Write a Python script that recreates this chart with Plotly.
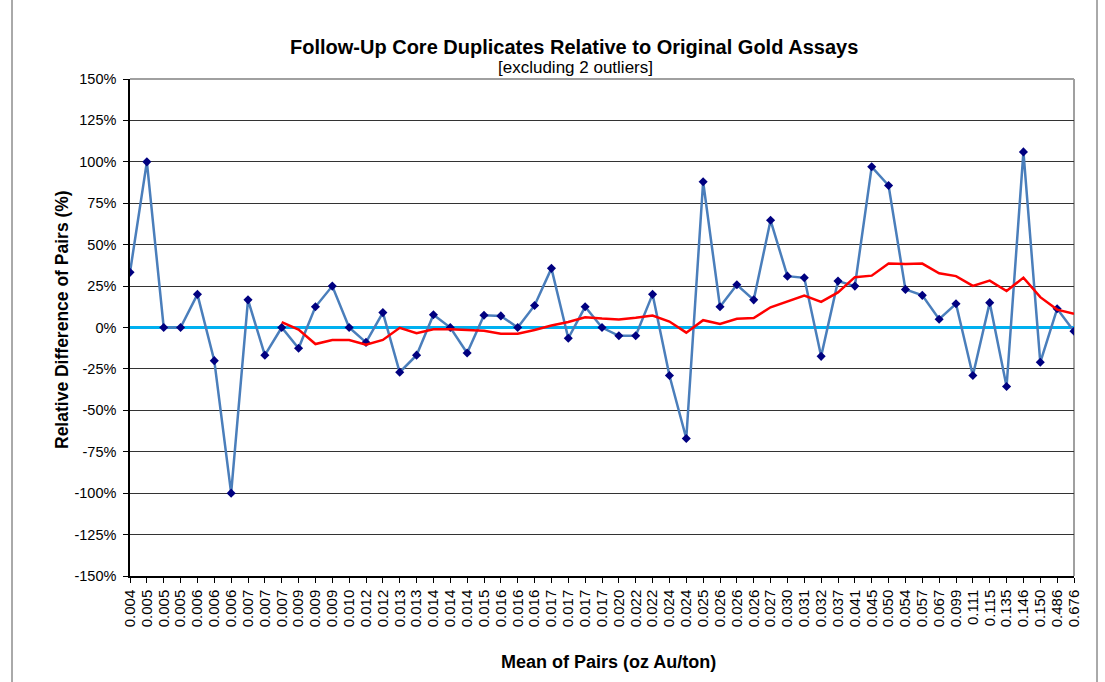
import plotly.graph_objects as go

# Mean of each duplicate pair (oz Au/ton), one label per pair
mean_labels = [
    "0.004", "0.005", "0.005", "0.005", "0.006", "0.006", "0.006", "0.007", "0.007", "0.007",
    "0.009", "0.009", "0.009", "0.010", "0.012", "0.012", "0.013", "0.013", "0.014", "0.014",
    "0.014", "0.015", "0.016", "0.016", "0.016", "0.017", "0.017", "0.017", "0.017", "0.020",
    "0.022", "0.022", "0.024", "0.024", "0.025", "0.026", "0.026", "0.026", "0.027", "0.030",
    "0.031", "0.032", "0.037", "0.041", "0.045", "0.050", "0.054", "0.057", "0.067", "0.099",
    "0.111", "0.115", "0.135", "0.146", "0.150", "0.486", "0.676",
]

# Relative difference of each pair (%)
rel_diff = [
    33.3, 100, 0, 0, 20, -20, -100, 16.7, -16.7, 0,
    -12.5, 12.5, 25, 0, -9, 9, -27, -16.7, 7.7, 0,
    -15.4, 7.4, 7.0, 0, 13.3, 35.7, -6.5, 12.5, 0, -5,
    -5, 20, -29, -67, 88, 12.5, 25.8, 16.7, 64.7, 31,
    30, -17.4, 28, 25, 97, 85.7, 23, 19.4, 5, 14.3,
    -29, 15, -35.6, 106, -21, 11.3, -2.3,
]

# 10-pair moving average (%), starting at the 10th pair
moving_avg = [
    3.3, -1.3, -10.0, -7.5, -7.5, -10.4, -7.5, -0.2, -3.5, -1.1,
    -1.1, -1.4, -1.9, -3.7, -3.7, -1.5, 1.2, 3.3, 6.2, 5.4,
    4.9, 5.9, 7.2, 3.6, -3.1, 4.4, 2.1, 5.3, 5.7, 12.2,
    15.8, 19.3, 15.5, 21.2, 30.4, 31.3, 38.7, 38.4, 38.6, 32.7,
    31.0, 25.1, 28.3, 22.0, 30.1, 18.3, 10.8, 8.3,
]

y_ticks = list(range(-150, 151, 25))

FONT = "Arial, Liberation Sans, sans-serif"

x_pos = list(range(len(mean_labels)))
ma_start = len(mean_labels) - len(moving_avg)

fig = go.Figure()

fig.add_trace(go.Scatter(
    x=x_pos, y=rel_diff, mode="lines+markers",
    line=dict(color="#4A7EBB", width=2.5),
    marker=dict(symbol="diamond", size=7, color="#000080"),
    showlegend=False, hoverinfo="x+y",
))

fig.add_trace(go.Scatter(
    x=x_pos[ma_start:], y=moving_avg, mode="lines",
    line=dict(color="#FF0000", width=2.5),
    showlegend=False,
))

fig.update_layout(
    width=1105, height=682,
    margin=dict(l=130, r=31, t=79, b=106),
    paper_bgcolor="white", plot_bgcolor="white",
    font=dict(family=FONT, size=14, color="black"),
    xaxis=dict(
        range=[0, len(mean_labels) - 1],
        tickmode="array", tickvals=x_pos, ticktext=mean_labels,
        tickangle=-90, ticks="outside", ticklen=5, tickcolor="black",
        ticklabelstandoff=1,
        showgrid=False, zeroline=False,
        showline=True, linecolor="black", linewidth=1.5,
        tickfont=dict(family=FONT, size=15, color="black"),
    ),
    yaxis=dict(
        range=[-150, 150], tickmode="array", tickvals=y_ticks,
        ticktext=[f"{v}%" for v in y_ticks],
        ticks="outside", ticklen=5, tickcolor="black",
        ticklabelstandoff=4,
        showgrid=True, gridcolor="#333333", gridwidth=1.3,
        zeroline=True, zerolinecolor="#00B0F0", zerolinewidth=3,
        showline=True, linecolor="black", linewidth=1.5,
        tickfont=dict(family=FONT, size=14.5, color="black"),
    ),
    shapes=[
        # plot area border (top / right)
        dict(type="line", xref="paper", yref="paper", x0=0, x1=1, y0=1, y1=1,
             line=dict(color="#A0A0A0", width=2), layer="above"),
        dict(type="line", xref="paper", yref="paper", x0=1, x1=1, y0=0, y1=1,
             line=dict(color="#A0A0A0", width=2), layer="below"),
        # chart frame
        dict(type="line", xref="paper", yref="paper",
             x0=-118 / 944, x1=-118 / 944, y0=-106 / 497, y1=1 + 79 / 497,
             line=dict(color="#555555", width=1)),
        dict(type="line", xref="paper", yref="paper",
             x0=1 + 23 / 944, x1=1 + 23 / 944, y0=-106 / 497, y1=1 + 79 / 497,
             line=dict(color="#555555", width=1)),
    ],
    annotations=[
        dict(text="<b>Follow-Up Core Duplicates Relative to Original Gold Assays</b>",
             xref="paper", yref="paper", x=(574 - 130) / 944, y=(576 - 47) / 497,
             xanchor="center", yanchor="middle", showarrow=False,
             font=dict(family=FONT, size=20, color="black")),
        dict(text="[excluding 2 outliers]",
             xref="paper", yref="paper", x=(575 - 130) / 944, y=(576 - 67) / 497,
             xanchor="center", yanchor="middle", showarrow=False,
             font=dict(family=FONT, size=17, color="black")),
        dict(text="<b>Relative Difference of Pairs (%)</b>",
             xref="paper", yref="paper", x=(62 - 130) / 944, y=(576 - 320) / 497,
             xanchor="center", yanchor="middle", showarrow=False, textangle=-90,
             font=dict(family=FONT, size=17.5, color="black")),
        dict(text="<b>Mean of Pairs (oz Au/ton)</b>",
             xref="paper", yref="paper", x=(608 - 130) / 944, y=(576 - 662) / 497,
             xanchor="center", yanchor="middle", showarrow=False,
             font=dict(family=FONT, size=18, color="black")),
    ],
)

fig.write_html("out.html")
